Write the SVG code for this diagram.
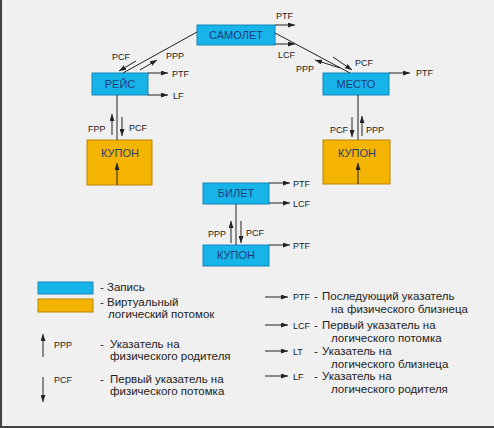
<svg xmlns="http://www.w3.org/2000/svg" width="494" height="428" viewBox="0 0 494 428">
<defs>
<marker id="ah" viewBox="0 0 7 5" refX="7" refY="2.5" markerWidth="7" markerHeight="5" markerUnits="userSpaceOnUse" orient="auto">
<path d="M0,0 L7,2.5 L0,5 Z" fill="#222"/>
</marker>
</defs>
<style>
.rec{fill:#17b4ea;stroke:#1585b5;stroke-width:1}
.vir{fill:#f5b400;stroke:#b98400;stroke-width:1}
.nt{font-family:"Liberation Sans",Arial,sans-serif;font-size:11px;fill:#1f3c78;text-anchor:middle}
.lb{font-family:"Liberation Sans",Arial,sans-serif;font-size:9px;fill:#222}
.lg{font-family:"Liberation Sans",Arial,sans-serif;font-size:11.5px;fill:#222}
.ln{stroke:#222;stroke-width:1;fill:none}
.ar{stroke:#222;stroke-width:1;fill:none;marker-end:url(#ah)}
</style>
<rect x="0" y="0" width="494" height="428" fill="#f0f0f0"/>
<line x1="1" y1="0" x2="1" y2="428" stroke="#444" stroke-width="2"/>
<line x1="5.5" y1="0" x2="5.5" y2="426" stroke="#fafafa" stroke-width="1"/>
<line x1="0" y1="427" x2="494" y2="427" stroke="#444" stroke-width="2"/>

<g id="samolet"><rect class="rec" x="197" y="25" width="78" height="20"/><text class="nt" x="236" y="39">САМОЛЕТ</text></g>
<g id="reis"><rect class="rec" x="92" y="73" width="56" height="22"/><text class="nt" x="120" y="88">РЕЙС</text></g>
<g id="mesto"><rect class="rec" x="323" y="73" width="66" height="22"/><text class="nt" x="356" y="88">МЕСТО</text></g>
<g id="kupon1"><rect class="vir" x="87" y="140" width="65" height="45"/><text class="nt" x="120" y="157">КУПОН</text></g>
<g id="kupon2"><rect class="vir" x="323" y="140" width="67" height="44"/><text class="nt" x="357" y="157">КУПОН</text></g>
<g id="bilet"><rect class="rec" x="203" y="183" width="66" height="21"/><text class="nt" x="236" y="197">БИЛЕТ</text></g>
<g id="kupon3"><rect class="rec" x="203" y="245" width="66" height="21"/><text class="nt" x="236" y="259">КУПОН</text></g>

<g id="connectors">
<line class="ln" x1="197" y1="32" x2="123" y2="73"/>
<line class="ar" x1="136" y1="61" x2="119" y2="71"/>
<line class="ar" x1="140" y1="70" x2="157" y2="60"/>
<line class="ln" x1="275" y1="33" x2="350" y2="73"/>
<line class="ar" x1="340" y1="68" x2="315" y2="60"/>
<line class="ar" x1="333" y1="57" x2="352" y2="70"/>
<line class="ar" x1="275" y1="25" x2="295" y2="25"/>
<line class="ar" x1="275" y1="44" x2="295" y2="44"/>
<line class="ar" x1="148" y1="73" x2="168" y2="73"/>
<line class="ar" x1="148" y1="95" x2="168" y2="95"/>
<line class="ar" x1="389" y1="73" x2="410" y2="73"/>
<line class="ln" x1="117" y1="95" x2="117" y2="140"/>
<line class="ar" x1="112" y1="135" x2="112" y2="114"/>
<line class="ar" x1="122" y1="117" x2="122" y2="136"/>
<line class="ar" x1="117" y1="185" x2="117" y2="163"/>
<line class="ln" x1="358" y1="95" x2="358" y2="140"/>
<line class="ar" x1="352" y1="117" x2="352" y2="137"/>
<line class="ar" x1="362" y1="136" x2="362" y2="116"/>
<line class="ar" x1="358" y1="184" x2="358" y2="163"/>
<line class="ar" x1="269" y1="183" x2="290" y2="183"/>
<line class="ar" x1="269" y1="203" x2="290" y2="203"/>
<line class="ln" x1="236" y1="204" x2="236" y2="245"/>
<line class="ar" x1="231" y1="243" x2="231" y2="221"/>
<line class="ar" x1="241" y1="221" x2="241" y2="243"/>
<line class="ar" x1="269" y1="245" x2="290" y2="245"/>
<text class="lb" x="276" y="19">PTF</text>
<text class="lb" x="278" y="58">LCF</text>
<text class="lb" x="112" y="60">PCF</text>
<text class="lb" x="166" y="59">PPP</text>
<text class="lb" x="172" y="77">PTF</text>
<text class="lb" x="173" y="99">LF</text>
<text class="lb" x="296" y="72">PPP</text>
<text class="lb" x="355" y="66">PCF</text>
<text class="lb" x="416" y="76">PTF</text>
<text class="lb" x="88" y="132">FPP</text>
<text class="lb" x="129" y="131">PCF</text>
<text class="lb" x="330" y="133">PCF</text>
<text class="lb" x="366" y="133">PPP</text>
<text class="lb" x="293" y="187">PTF</text>
<text class="lb" x="293" y="207">LCF</text>
<text class="lb" x="208" y="237">PPP</text>
<text class="lb" x="246" y="236">PCF</text>
<text class="lb" x="293" y="249">PTF</text>
</g>

<g id="legend">
<rect class="rec" x="38" y="282" width="55" height="12"/>
<text class="lg" x="100" y="291">- Запись</text>
<rect class="vir" x="38" y="299" width="55" height="13"/>
<text class="lg" x="100" y="306">- Виртуальный</text>
<text class="lg" x="108" y="318">логический потомок</text>
<line class="ar" x1="43" y1="357" x2="43" y2="334"/>
<text class="lb" x="54" y="348">PPP</text>
<text class="lg" x="100" y="348">-</text>
<text class="lg" x="110" y="348">Указатель на</text>
<text class="lg" x="110" y="360">физического родителя</text>
<line class="ar" x1="43" y1="377" x2="43" y2="402"/>
<text class="lb" x="54" y="383">PCF</text>
<text class="lg" x="100" y="383">-</text>
<text class="lg" x="110" y="383">Первый указатель на</text>
<text class="lg" x="110" y="395">физического потомка</text>
<line class="ar" x1="265" y1="297" x2="288" y2="297"/>
<text class="lb" x="293" y="300">PTF</text>
<text class="lg" x="314" y="300">-</text>
<text class="lg" x="322" y="300">Последующий указатель</text>
<text class="lg" x="331" y="313">на физического близнеца</text>
<line class="ar" x1="265" y1="325" x2="288" y2="325"/>
<text class="lb" x="293" y="329">LCF</text>
<text class="lg" x="314" y="329">-</text>
<text class="lg" x="322" y="329">Первый указатель на</text>
<text class="lg" x="331" y="342">логического потомка</text>
<line class="ar" x1="265" y1="351" x2="288" y2="351"/>
<text class="lb" x="293" y="355">LT</text>
<text class="lg" x="314" y="355">-</text>
<text class="lg" x="322" y="355">Указатель на</text>
<text class="lg" x="331" y="368">логического близнеца</text>
<line class="ar" x1="265" y1="376" x2="288" y2="376"/>
<text class="lb" x="293" y="380">LF</text>
<text class="lg" x="314" y="380">-</text>
<text class="lg" x="322" y="380">Указатель на</text>
<text class="lg" x="331" y="393">логического родителя</text>
</g>
</svg>
